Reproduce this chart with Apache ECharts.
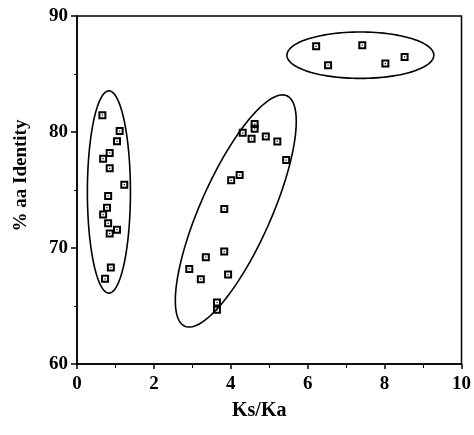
<!DOCTYPE html>
<html>
<head>
<meta charset="utf-8">
<script src="https://cdn.jsdelivr.net/npm/echarts@6/dist/echarts.min.js"></script>
<style>html,body{margin:0;padding:0;background:#fff;}#c{width:474px;height:435px;}</style>
</head>
<body>
<div id="c"></div>
<script>
// Data (Ks/Ka, % aa identity)
const cluster1X = [0.66,1.11,1.04,0.85,0.68,0.85,1.23,0.81,0.78,0.68,0.81,1.04,0.85,0.88,0.73];
const cluster1Y = [81.45,80.08,79.2,78.2,77.7,76.87,75.46,74.48,73.48,72.88,72.13,71.58,71.24,68.31,67.34];
const cluster2X = [4.62,4.62,4.31,4.54,4.91,5.21,5.44,4.23,4.01,3.83,3.83,3.35,2.92,3.22,3.93,3.64,3.64];
const cluster2Y = [80.68,80.28,79.93,79.42,79.62,79.19,77.58,76.29,75.83,73.36,69.69,69.21,68.2,67.31,67.71,65.3,64.67];
const cluster3X = [6.22,7.42,6.53,8.02,8.52];
const cluster3Y = [87.39,87.48,85.76,85.9,86.47];
// Grouping ellipses in data units: centre, and two conjugate semi-diameters
const ellipseCenters = [[0.83,74.83],[4.13,73.19],[7.37,86.62]];
const ellipseU = [[0,8.72],[1.329,9.93],[1.91,0]];
const ellipseV = [[0.56,0],[0.841,-1.248],[0,2.0]];
const xTicks = [0,2,4,6,8,10];
const yTicks = [60,70,80,90];

const zip = (xs, ys) => xs.map((x, i) => [x, ys[i]]);
const ellipseData = ellipseCenters.map((c, i) => [c[0], c[1], ellipseU[i][0], ellipseU[i][1], ellipseV[i][0], ellipseV[i][1]]);

const marker = 'path://M0,0H8V8H0Z M2,2V6H6V2Z M3.4,3.4H4.6V4.6H3.4Z';
const font = '"Liberation Serif","DejaVu Serif",serif';

const pointSeries = (name, data) => ({
  name, type: 'scatter', data,
  symbol: marker, symbolSize: 8,
  itemStyle: { color: '#000', opacity: 1 },
  z: 3
});

const chart = echarts.init(document.getElementById('c'));
chart.setOption({
  animation: false,
  backgroundColor: '#fff',
  grid: { left: 77, right: 10, top: 16, bottom: 71, show: true, borderColor: '#000', borderWidth: 1.5, backgroundColor: 'transparent' },
  xAxis: {
    type: 'value', min: xTicks[0], max: xTicks[xTicks.length - 1], interval: 2,
    name: 'Ks/Ka', nameLocation: 'middle', nameGap: 37,
    nameTextStyle: { fontFamily: font, fontWeight: 'bold', fontSize: 20, color: '#000', padding: [0, 20, 0, 0] },
    axisLine: { lineStyle: { color: '#000', width: 1.5 } },
    axisTick: { show: true, length: 5, lineStyle: { color: '#000', width: 1.5 } },
    minorTick: { show: true, splitNumber: 2, length: 4, lineStyle: { color: '#000', width: 1 } },
    splitLine: { show: false },
    axisLabel: { margin: 11, fontFamily: font, fontWeight: 'bold', fontSize: 19, color: '#000' }
  },
  yAxis: {
    type: 'value', min: yTicks[0], max: yTicks[yTicks.length - 1], interval: 10,
    name: '% aa Identity', nameLocation: 'middle', nameGap: 46,
    nameTextStyle: { fontFamily: font, fontWeight: 'bold', fontSize: 19, color: '#000', padding: [0, 0, 0, 29] },
    axisLine: { lineStyle: { color: '#000', width: 1.5 } },
    axisTick: { show: true, length: 6, lineStyle: { color: '#000', width: 1.5 } },
    minorTick: { show: true, splitNumber: 2, length: 3, lineStyle: { color: '#000', width: 1 } },
    splitLine: { show: false },
    axisLabel: { margin: 9, fontFamily: font, fontWeight: 'bold', fontSize: 19, color: '#000' }
  },
  series: [
    {
      type: 'custom', data: ellipseData, encode: { x: 0, y: 1 }, z: 2, silent: true,
      renderItem: function (params, api) {
        const cx = api.value(0), cy = api.value(1);
        const ux = api.value(2), uy = api.value(3), vx = api.value(4), vy = api.value(5);
        const pts = [];
        const n = 120;
        for (let k = 0; k < n; k++) {
          const t = 2 * Math.PI * k / n;
          pts.push(api.coord([cx + ux * Math.cos(t) + vx * Math.sin(t), cy + uy * Math.cos(t) + vy * Math.sin(t)]));
        }
        return { type: 'polygon', shape: { points: pts }, style: { fill: 'none', stroke: '#000', lineWidth: 1.6 } };
      }
    },
    pointSeries('c1', zip(cluster1X, cluster1Y)),
    pointSeries('c2', zip(cluster2X, cluster2Y)),
    pointSeries('c3', zip(cluster3X, cluster3Y))
  ]
});
</script>
</body>
</html>
